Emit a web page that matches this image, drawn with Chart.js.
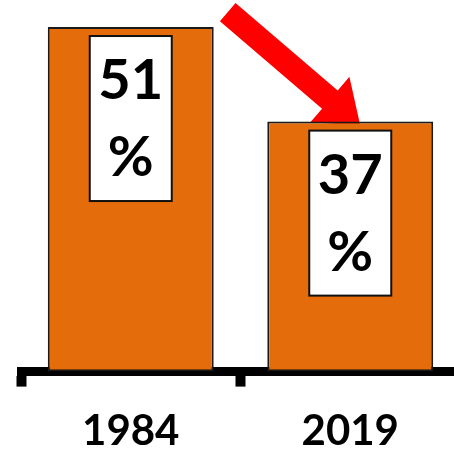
<!DOCTYPE html>
<html lang="en">
<head>
    <meta charset="UTF-8">
    <title>1984 vs 2019</title>
    <script src="https://cdn.jsdelivr.net/npm/chart.js"></script>
    <style>
        html, body {
            margin: 0;
            padding: 0;
            background: #fff;
            overflow: hidden;
        }
        /* a little wider and taller than the window, the edges get cropped */
        .chart-wrapper {
            position: relative;
            width: 470px;
            height: 477px;
        }
    </style>
</head>
<body>
    <div class="chart-wrapper">
        <canvas id="shareChart"></canvas>
    </div>

    <script>
        const years = ['1984', '2019'];
        const shares = [51, 37];

        const ORANGE = '#E46C0A';

        // White value box inside each bar: "51" over "%"
        const valueBoxes = {
            id: 'valueBoxes',
            afterDatasetsDraw(chart) {
                const ctx = chart.ctx;
                const meta = chart.getDatasetMeta(0);
                ctx.save();
                meta.data.forEach((bar, i) => {
                    const w = 82, h = 165;
                    const left = bar.x - w / 2;
                    const top = bar.y + 9;
                    ctx.fillStyle = '#fff';
                    ctx.fillRect(left, top, w, h);
                    ctx.lineWidth = 2;
                    ctx.strokeStyle = '#111';
                    ctx.strokeRect(left, top, w, h);
                    ctx.fillStyle = '#000';
                    ctx.font = 'bold 56px Lato';
                    ctx.textAlign = 'center';
                    ctx.textBaseline = 'middle';
                    ctx.fillText(String(shares[i]), bar.x, top + 45);
                    ctx.fillText('%', bar.x, top + 122);
                });
                ctx.restore();
            }
        };

        // Red arrow from the first bar down to the second, drawn behind the bars
        const dropArrow = {
            id: 'dropArrow',
            beforeDatasetsDraw(chart) {
                const meta = chart.getDatasetMeta(0);
                const a = meta.data[0], b = meta.data[1];
                const x0 = a.x + a.width / 2 + 14, y0 = a.y - 15;
                const x1 = b.x + 10, y1 = b.y + 4;
                const ang = Math.atan2(y1 - y0, x1 - x0);
                const len = Math.hypot(x1 - x0, y1 - y0);
                const shaft = 12, head = 30, headLen = 40;
                const ctx = chart.ctx;
                ctx.save();
                ctx.translate(x0, y0);
                ctx.rotate(ang);
                ctx.beginPath();
                ctx.moveTo(0, -shaft);
                ctx.lineTo(len - headLen, -shaft);
                ctx.lineTo(len - headLen, -head);
                ctx.lineTo(len, 0);
                ctx.lineTo(len - headLen, head);
                ctx.lineTo(len - headLen, shaft);
                ctx.lineTo(0, shaft);
                ctx.closePath();
                ctx.fillStyle = '#FF0000';
                ctx.fill();
                ctx.restore();
            }
        };

        new Chart(document.getElementById('shareChart'), {
            type: 'bar',
            data: {
                labels: years,
                datasets: [{
                    data: shares,
                    backgroundColor: ORANGE,
                    borderColor: '#1a1a1a',
                    borderWidth: 2,
                    borderSkipped: false,
                    barPercentage: 0.756,
                    categoryPercentage: 1
                }]
            },
            options: {
                responsive: true,
                maintainAspectRatio: false,
                animation: false,
                layout: {
                    padding: { left: 21, right: 10, top: 0, bottom: 0 }
                },
                plugins: {
                    legend: { display: false },
                    tooltip: { enabled: false }
                },
                scales: {
                    x: {
                        z: 1,
                        offset: true,
                        border: { display: true, width: 9, color: '#000' },
                        grid: {
                            offset: true,
                            drawOnChartArea: false,
                            drawTicks: true,
                            tickLength: 15,
                            tickWidth: 10,
                            tickColor: '#000'
                        },
                        ticks: {
                            color: '#000',
                            padding: 20,
                            font: { family: 'Lato', weight: 'bold', size: 42 }
                        }
                    },
                    y: {
                        display: false,
                        min: 0,
                        max: 55
                    }
                }
            },
            plugins: [dropArrow, valueBoxes]
        });
    </script>
</body>
</html>
